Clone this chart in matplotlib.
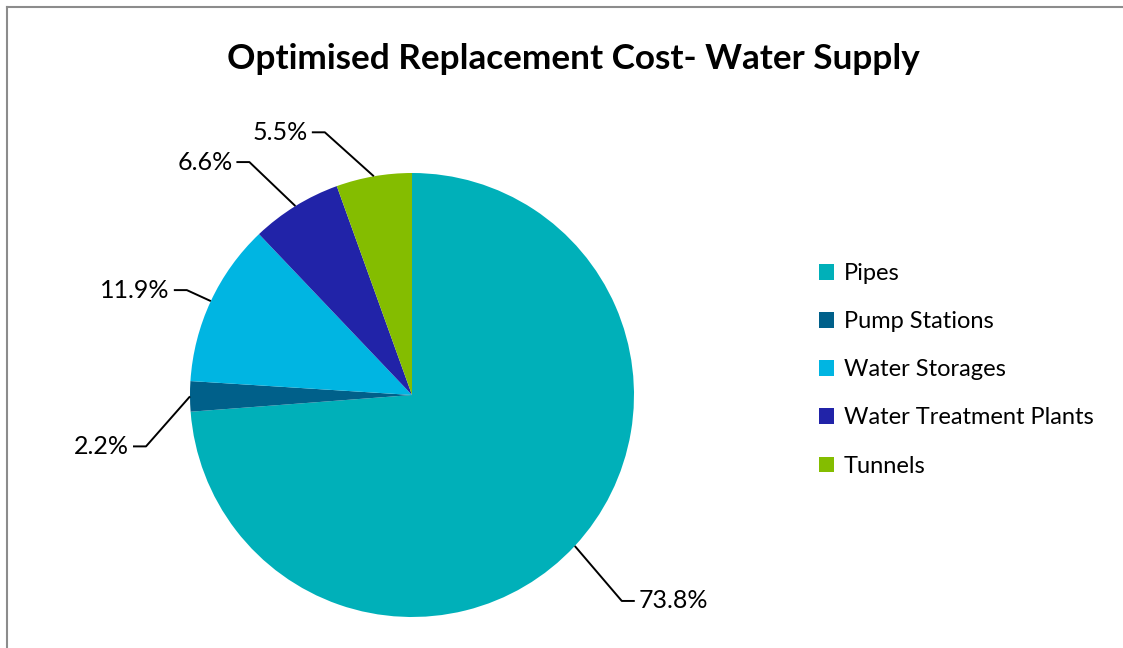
import numpy as np
import matplotlib.pyplot as plt
from matplotlib.patches import Patch
from matplotlib.lines import Line2D

# asset categories and their share of replacement cost (%)
categories = ['Pipes', 'Pump Stations', 'Water Storages',
              'Water Treatment Plants', 'Tunnels']
shares = [73.8, 2.2, 11.9, 6.6, 5.5]
colors = ['#00B0B9', '#00608A', '#00B5E2', '#2123A8', '#84BD00']

# leader line elbows, pixels from the wedge edge (x right, y up)
elbows = [(47, -55), (-44, -50), (-24, 11), (-46, 44), (-49, 44)]

W, H, DPI = 1123, 648, 100
R_PX = 222            # pie radius in pixels
CX, CY = 412, 395     # pie centre in pixels (from top-left)
HALF = 300

plt.rcParams['font.family'] = ['Lato', 'DejaVu Sans']

fig = plt.figure(figsize=(W / DPI, H / DPI), dpi=DPI)
ax = fig.add_axes([(CX - HALF) / W, (H - CY - HALF) / H, 2 * HALF / W, 2 * HALF / H])
lim = HALF / R_PX

wedges, _ = ax.pie(shares, colors=colors, startangle=90, counterclock=False,
                   radius=1.0, center=(0, 0), frame=True,
                   wedgeprops=dict(linewidth=0))
ax.set_xlim(-lim, lim)
ax.set_ylim(-lim, lim)
ax.set_aspect('equal')
ax.axis('off')

px = 1.0 / R_PX
for w, val, (dx, dy) in zip(wedges, shares, elbows):
    mid = np.deg2rad((w.theta1 + w.theta2) / 2)
    x0, y0 = np.cos(mid), np.sin(mid)
    x1, y1 = x0 + dx * px, y0 + dy * px
    side = 1 if dx > 0 else -1
    x2 = x1 + side * 13 * px
    ax.plot([x0, x1, x2], [y0, y1, y1], color='black', lw=1.4,
            solid_capstyle='butt', clip_on=False)
    ax.text(x2 + side * 4 * px, y1, f'{val:.1f}%', fontsize=18,
            ha='left' if side > 0 else 'right', va='center')

fig.text(573 / W, 1 - 59 / H, 'Optimised Replacement Cost- Water Supply',
         fontsize=25.3, fontweight='bold', ha='center', va='center')

handles = [Patch(facecolor=c, edgecolor='none') for c in colors]
fig.legend(handles, categories, loc='upper left',
           bbox_to_anchor=(819 / W, 1 - 263 / H), frameon=False,
           fontsize=17, handlelength=0.64, handleheight=0.64,
           handletextpad=0.42, labelspacing=1.15, borderpad=0, borderaxespad=0)

# chart border (top and left edges fall inside the image)
fig.add_artist(Line2D([6.5 / W, 1], [1 - 6.5 / H, 1 - 6.5 / H],
                      transform=fig.transFigure, color='#8c8c8c', lw=1.5))
fig.add_artist(Line2D([6.5 / W, 6.5 / W], [0, 1 - 6.5 / H],
                      transform=fig.transFigure, color='#8c8c8c', lw=1.5))

fig.savefig('out.png', dpi=DPI)
